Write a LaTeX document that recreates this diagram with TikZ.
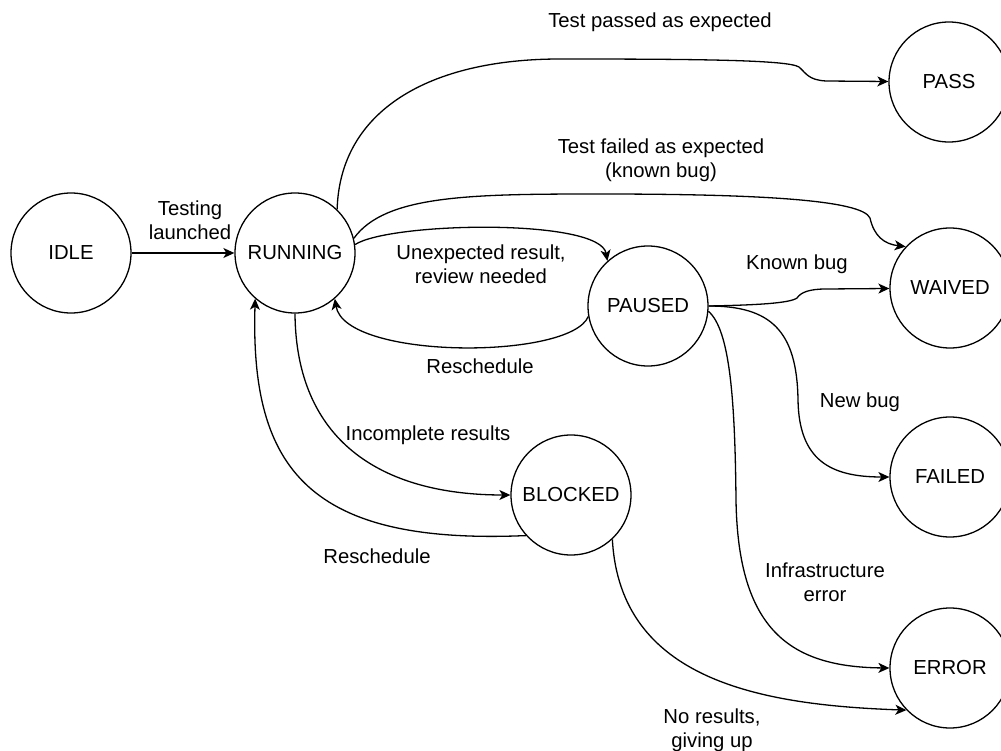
\documentclass[tikz,border=0pt]{standalone}
\usepackage{fontspec}
\setmainfont{Liberation Sans}
\usetikzlibrary{arrows.meta}
\begin{document}
\begin{tikzpicture}[x=1pt,y=-1pt,
  state/.style={draw, circle, minimum size=120pt, inner sep=0pt, line width=1.3pt},
  lbl/.style={inner sep=0pt, align=center, font=\fontsize{20.3pt}{24pt}\selectfont},
  edge/.style={line width=1.3pt, -{Stealth[length=11pt,width=10pt,inset=3pt]}},
  font=\fontsize{20.3pt}{24pt}\selectfont]
\useasboundingbox (0,0) rectangle (1001,751);
\fill[white] (0,0) rectangle (1001,751);

\node[state] (idle) at (71,253) {IDLE};
\node[state] (run) at (295,253) {RUNNING};
\node[state] (pass) at (949,82) {PASS};
\node[state] (waived) at (950,288) {WAIVED};
\node[state] (paused) at (648,306) {PAUSED};
\node[state] (blocked) at (571,495) {BLOCKED};
\node[state] (failed) at (950,477) {FAILED};
\node[state] (error) at (950,668) {ERROR};

% IDLE -> RUNNING
\draw[edge] (idle) -- (run);
\node[lbl] (l1) at (190,220) {Testing\\launched};

% RUNNING -> PASS
\draw[edge] (run.46) .. controls (340,110) and (430,59) .. (560,59)
  .. controls (700,59) and (788,60) .. (799,67)
  .. controls (806,73) and (808,80) .. (826,81) -- (pass);
\node[lbl] (l2) at (660,22) {Test passed as expected};

% RUNNING -> WAIVED
\draw[edge] (run.14) .. controls (385,195) and (470,194) .. (600,194)
  .. controls (760,194) and (862,200) .. (870,218)
  .. controls (874,236) and (884,244) .. (waived.137);
\node[lbl] (l3) at (661,160) {Test failed as expected\\(known bug)};

% RUNNING -> PAUSED
\draw[edge] (run.8) .. controls (390,222) and (600,218) .. (paused.132);
\node[lbl] (l4) at (481,264) {Unexpected result,\\review needed};

% PAUSED -> RUNNING
\draw[edge] (paused.190) .. controls (570,360) and (345,360) .. (run.311);
\node[lbl] (l5) at (480,366) {Reschedule};

% PAUSED -> WAIVED
\draw[edge] (paused.east) .. controls (760,305) and (790,303) .. (797,298)
  .. controls (801,292) and (810,289) .. (826,289) -- (waived);
\node[lbl] (l6) at (797,264) {Known bug};

% PAUSED -> FAILED
\draw[edge] (paused.east) .. controls (770,306) and (797,330) .. (798,400)
  .. controls (799,460) and (830,477) .. (failed.west);
\node[lbl] (l7) at (860,402) {New bug};

% PAUSED -> ERROR
\draw[edge] (paused.355) .. controls (730,330) and (735,400) .. (736,500)
  .. controls (738,630) and (790,667) .. (error.west);
\node[lbl] (l8) at (825,582) {Infrastructure\\error};

% RUNNING -> BLOCKED
\draw[edge] (run.south) .. controls (296,440) and (380,495) .. (blocked.west);
\node[lbl] (l9) at (428,435) {Incomplete results};

% BLOCKED -> RUNNING
\draw[edge] (blocked.222) .. controls (310,545) and (250,470) .. (run.229);
\node[lbl] (l10) at (377,556) {Reschedule};

% BLOCKED -> ERROR
\draw[edge] (blocked.313) .. controls (620,680) and (760,705) .. (error.224);
\node[lbl] (l11) at (712,730) {No results,\\giving up};
\end{tikzpicture}
\end{document}
